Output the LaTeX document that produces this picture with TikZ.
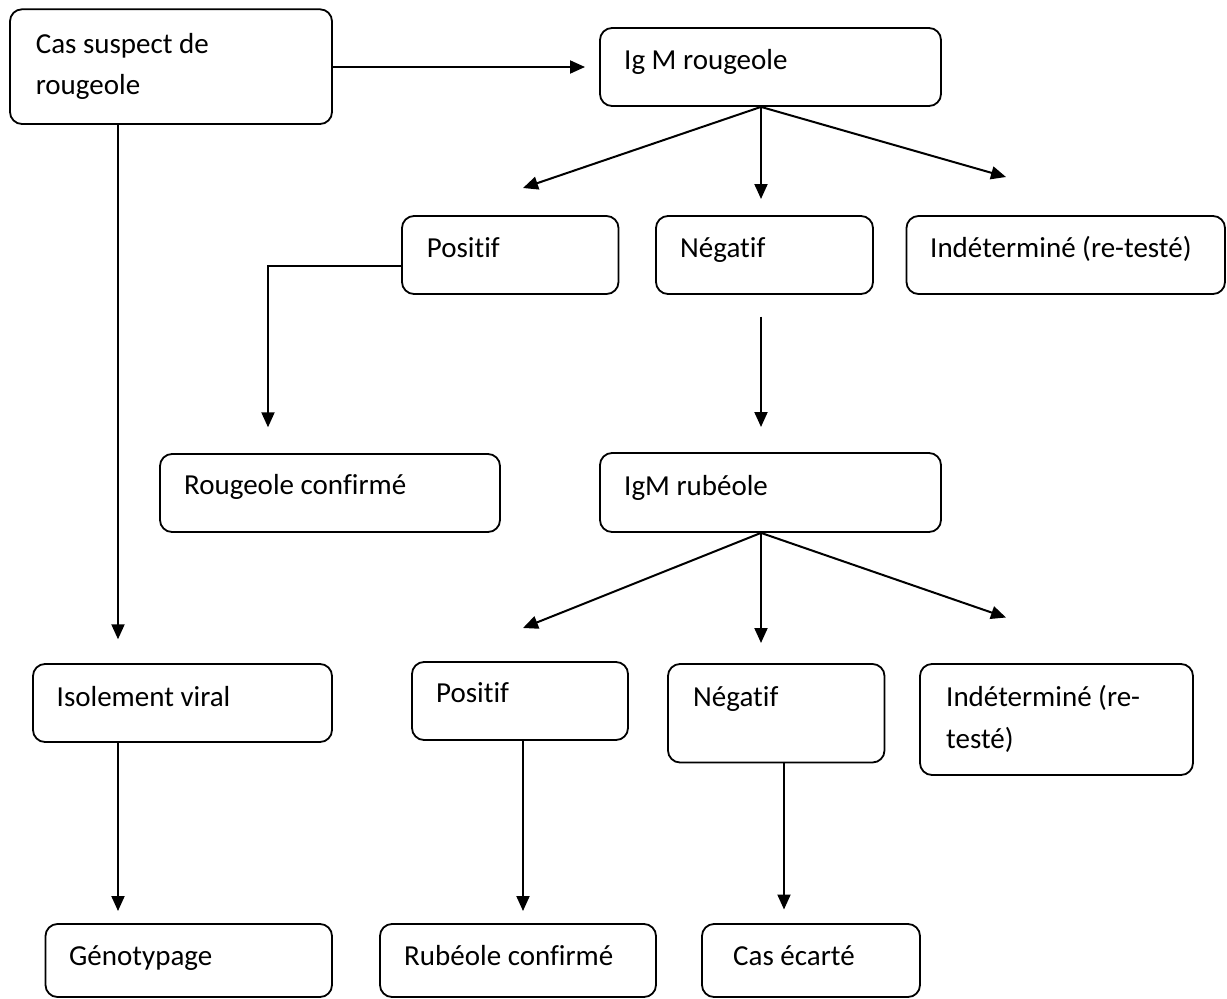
\documentclass[tikz,border=0pt]{standalone}
\usepackage{fontspec}
\setmainfont[Ligatures=NoCommon]{Carlito}
\usetikzlibrary{arrows.meta,fit}
\begin{document}
\begin{tikzpicture}[x=1pt,y=-1pt,
  box/.style={draw, line width=1.8pt, rounded corners=12pt, inner sep=0pt},
  txt/.style={anchor=base west, inner sep=0pt, font=\fontsize{29}{41}\selectfont},
  arr/.style={line width=2pt, -{Triangle[length=15pt,width=13pt]}}]
\fill[white] (0,0) rectangle (1227,999);
\useasboundingbox (0,0) rectangle (1227,999);
% boxes
\node[box, fit={(10,9.3) (332,124)}] (cas) {};
\node[box, fit={(600,28) (941,106)}] (igm) {};
\node[box, fit={(402,216) (618.5,294)}] (pos1) {};
\node[box, fit={(656,216) (873,294)}] (neg1) {};
\node[box, fit={(906.5,216) (1225,294)}] (ind1) {};
\node[box, fit={(160,454) (500,532)}] (rc) {};
\node[box, fit={(600,453) (941,532)}] (igmr) {};
\node[box, fit={(33,664) (332,742)}] (iso) {};
\node[box, fit={(412,662) (628,740)}] (pos2) {};
\node[box, fit={(668,664) (884.5,762.5)}] (neg2) {};
\node[box, fit={(920,664) (1193,775)}] (ind2) {};
\node[box, fit={(45.5,924) (332,997)}] (geno) {};
\node[box, fit={(380,924) (656,997)}] (rub) {};
\node[box, fit={(702,924) (920,997)}] (ecart) {};
% texts
\node[txt] (cas-a) at (35.6,53.3) {Cas suspect de};
\node[txt] (cas-b) at (35.6,94) {rougeole};
\node[txt] (igm-t) at (624,69) {Ig M rougeole};
\node[txt] (pos1-t) at (426.7,257) {Positif};
\node[txt] (neg1-t) at (680,257) {Négatif};
\node[txt] (ind1-t) at (930,257) {Indéterminé (re-testé)};
\node[txt] (rc-t) at (184,494) {Rougeole confirmé};
\node[txt] (igmr-t) at (624,495) {IgM rubéole};
\node[txt] (iso-t) at (56.5,706) {Isolement viral};
\node[txt] (pos2-t) at (436,702) {Positif};
\node[txt] (neg2-t) at (693,706) {Négatif};
\node[txt] (ind2-a) at (946,706.7) {Indéterminé (re-};
\node[txt] (ind2-b) at (946,748) {testé)};
\node[txt] (geno-t) at (69,965) {Génotypage};
\node[txt] (rub-t) at (404,965) {Rubéole confirmé};
\node[txt] (ecart-t) at (733,965) {Cas écarté};
% arrow ends
\coordinate (t1) at (585,67);
\coordinate (t2) at (118,639.3);
\coordinate (t3) at (268,427.3);
\coordinate (l1) at (523,188);
\coordinate (m1) at (761,199);
\coordinate (r1) at (1006,177);
\coordinate (n1a) at (761,316.7);
\coordinate (n1b) at (761,427);
\coordinate (l2) at (523,628);
\coordinate (m2) at (761,643);
\coordinate (r2) at (1006,617.5);
\coordinate (t4) at (118,911);
\coordinate (t5) at (523,911);
\coordinate (t6) at (784,909.5);
% connectors
\draw[arr] (cas.east |- t1) -- (t1);
\draw[arr] (cas.south -| t2) -- (t2);
\draw[arr] ([yshift=-11pt]pos1.west) -| (t3);
\draw[arr] (igm.south -| m1) -- (l1);
\draw[arr] (igm.south -| m1) -- (m1);
\draw[arr] (igm.south -| m1) -- (r1);
\draw[arr] (n1a) -- (n1b);
\draw[arr] (igmr.south -| m2) -- (l2);
\draw[arr] (igmr.south -| m2) -- (m2);
\draw[arr] (igmr.south -| m2) -- (r2);
\draw[arr] (iso.south -| t4) -- (t4);
\draw[arr] (pos2.south -| t5) -- (t5);
\draw[arr] (neg2.south -| t6) -- (t6);
\end{tikzpicture}
\end{document}
